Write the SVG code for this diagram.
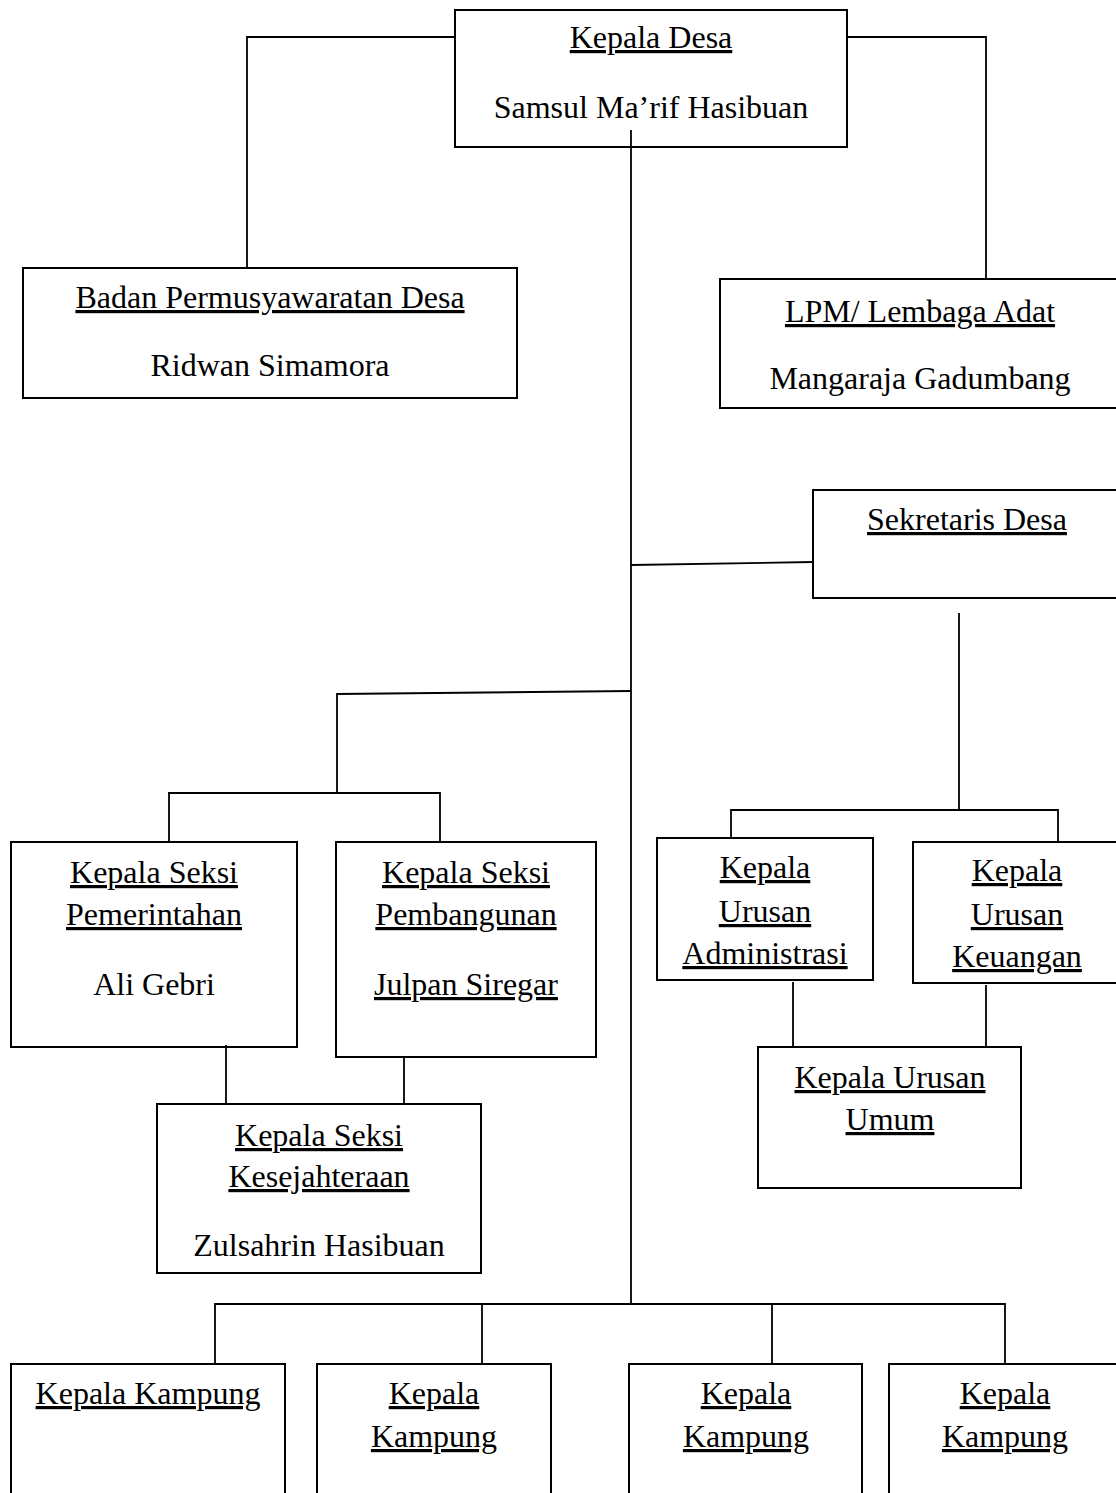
<svg xmlns="http://www.w3.org/2000/svg" width="1116" height="1493" viewBox="0 0 1116 1493">
<style>
.b{fill:#fff;stroke:#000;stroke-width:2}
.c line,.c polyline{fill:none;stroke:#000;stroke-width:1.8}
text{font-family:"Liberation Serif","Times New Roman",serif;font-size:32px;fill:#000;text-anchor:middle}
.u{text-decoration:underline}
</style>
<rect width="1116" height="1493" fill="#fff"/>
<g id="kepala-desa"><rect class="b" x="455" y="10" width="392" height="137"/><text class="u" x="651" y="48">Kepala Desa</text><text x="651" y="118">Samsul Ma’rif Hasibuan</text></g>
<g id="bpd"><rect class="b" x="23" y="268" width="494" height="130"/><text class="u" x="270" y="308">Badan Permusyawaratan Desa</text><text x="270" y="376">Ridwan Simamora</text></g>
<g id="lpm"><rect class="b" x="720" y="279" width="410" height="129"/><text class="u" x="920" y="322">LPM/ Lembaga Adat</text><text x="920" y="389">Mangaraja Gadumbang</text></g>
<g id="sekretaris"><rect class="b" x="813" y="490" width="320" height="108"/><text class="u" x="967" y="530">Sekretaris Desa</text></g>
<g id="kasi-pemerintahan"><rect class="b" x="11" y="842" width="286" height="205"/><text class="u" x="154" y="883">Kepala Seksi</text><text class="u" x="154" y="925">Pemerintahan</text><text x="154" y="995">Ali Gebri</text></g>
<g id="kasi-pembangunan"><rect class="b" x="336" y="842" width="260" height="215"/><text class="u" x="466" y="883">Kepala Seksi</text><text class="u" x="466" y="925">Pembangunan</text><text class="u" x="466" y="995">Julpan Siregar</text></g>
<g id="kasi-kesejahteraan"><rect class="b" x="157" y="1104" width="324" height="169"/><text class="u" x="319" y="1146">Kepala Seksi</text><text class="u" x="319" y="1187">Kesejahteraan</text><text x="319" y="1256">Zulsahrin Hasibuan</text></g>
<g id="kaur-administrasi"><rect class="b" x="657" y="838" width="216" height="142"/><text class="u" x="765" y="878">Kepala</text><text class="u" x="765" y="922">Urusan</text><text class="u" x="765" y="964">Administrasi</text></g>
<g id="kaur-keuangan"><rect class="b" x="913" y="842" width="220" height="141"/><text class="u" x="1017" y="881">Kepala</text><text class="u" x="1017" y="925">Urusan</text><text class="u" x="1017" y="967">Keuangan</text></g>
<g id="kaur-umum"><rect class="b" x="758" y="1047" width="263" height="141"/><text class="u" x="890" y="1088">Kepala Urusan</text><text class="u" x="890" y="1130">Umum</text></g>
<g id="kampung-1"><rect class="b" x="11" y="1364" width="274" height="140"/><text class="u" x="148" y="1404">Kepala Kampung</text></g>
<g id="kampung-2"><rect class="b" x="317" y="1364" width="234" height="140"/><text class="u" x="434" y="1404">Kepala</text><text class="u" x="434" y="1447">Kampung</text></g>
<g id="kampung-3"><rect class="b" x="629" y="1364" width="233" height="140"/><text class="u" x="746" y="1404">Kepala</text><text class="u" x="746" y="1447">Kampung</text></g>
<g id="kampung-4"><rect class="b" x="889" y="1364" width="240" height="140"/><text class="u" x="1005" y="1404">Kepala</text><text class="u" x="1005" y="1447">Kampung</text></g>
<g class="c" id="connectors">
<polyline points="455,37 247,37 247,268"/>
<polyline points="847,37 986,37 986,279"/>
<line x1="631" y1="130" x2="631" y2="1304"/>
<line x1="631" y1="565" x2="813" y2="562"/>
<polyline points="631,691 337,694 337,793"/>
<polyline points="169,842 169,793 440,793 440,842"/>
<line x1="959" y1="613" x2="959" y2="810"/>
<polyline points="731,838 731,810 1058,810 1058,842"/>
<line x1="226" y1="1045" x2="226" y2="1104"/>
<line x1="404" y1="1057" x2="404" y2="1104"/>
<line x1="793" y1="982" x2="793" y2="1047"/>
<line x1="986" y1="985" x2="986" y2="1047"/>
<polyline points="215,1364 215,1304 1005,1304 1005,1364"/>
<line x1="482" y1="1304" x2="482" y2="1364"/>
<line x1="772" y1="1304" x2="772" y2="1364"/>
</g>
</svg>
